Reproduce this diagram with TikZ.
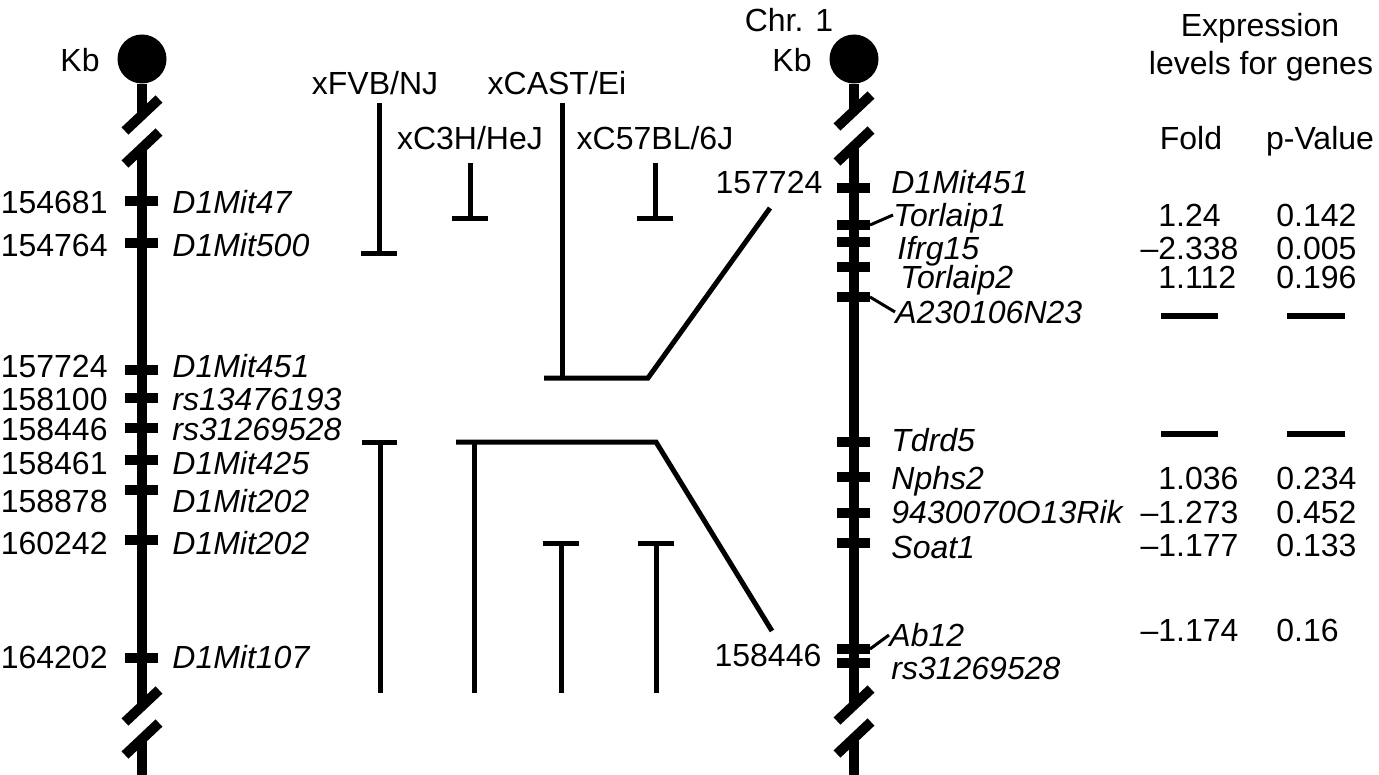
\documentclass[tikz,border=0pt]{standalone}
\usepackage{fontspec}
\setmainfont{Liberation Sans}
\newcommand{\lblfont}{\fontsize{16}{19}\selectfont}
\tikzset{
  chrom/.style={line width=5pt},
  tickbar/.style={line width=5pt},
  strain/.style={line width=2.5pt},
  lead/.style={line width=1.5pt},
  nodata/.style={line width=2.8pt},
  centro/.style={circle,fill,minimum size=24.5pt},
  gene/.style={anchor=west,font=\lblfont\itshape},
  kb/.style={anchor=east},
  val/.style={anchor=west}
}

\begin{document}
\begin{tikzpicture}
  [x=0.5pt,y=-0.5pt,every node/.style={font=\lblfont,inner sep=0pt,text height=11.5pt,text depth=0pt}]
  \useasboundingbox (0,0) rectangle (1379,775);

  % left chromosome
  \node[centro] (cenl) at (142,59) {};
  \node (kbl) at (80,60) {Kb};
  \draw[chrom] (cenl) -- (142,115);
  \draw[chrom] (142,148) -- (142,706);
  \draw[chrom] (142,739) -- (142,775);
  \foreach \y in {115,148,706,739}
    \draw[chrom] (125,\y+16) -- (159,\y-16);
  \foreach \y/\ly/\kb/\mk [count=\i] in {201/202/154681/D1Mit47, 243/245/154764/D1Mit500,
      370/366/157724/D1Mit451, 398/399/158100/rs13476193, 428/429/158446/rs31269528,
      460/463/158461/D1Mit425, 490/501/158878/D1Mit202, 540/543/160242/D1Mit202,
      658/657/164202/D1Mit107}{
    \draw[tickbar] (125,\y) -- (158,\y);
    \node[kb] (kl\i) at (108,\ly) {\kb};
    \node[gene] (ml\i) at (172,\ly) {\mk};
  }

  % right chromosome
  \node[centro] (cenr) at (854,59) {};
  \node (chr) at (789,20) {Chr. 1};
  \node (kbr) at (792,60) {Kb};
  \draw[chrom] (cenr) -- (854,111);
  \draw[chrom] (854,146) -- (854,705);
  \draw[chrom] (854,738) -- (854,775);
  \foreach \y in {111,146,705,738}
    \draw[chrom] (837,\y+16) -- (871,\y-16);
  \foreach \y [count=\i] in {188,225,242,267,297,442,477,513,543,649,663}{
    \draw[tickbar] (837,\y) -- (870,\y);
    \coordinate (tr\i) at (870,\y);
  }
  \node[gene] (mr1) at (891,182) {D1Mit451};
  \node[gene] (mr2) at (893,215) {Torlaip1};
  \node[gene] (mr3) at (897,248) {Ifrg15};
  \node[gene] (mr4) at (900,277) {Torlaip2};
  \node[gene] (mr5) at (895,312) {A230106N23};
  \node[gene] (mr6) at (891,440) {Tdrd5};
  \node[gene] (mr7) at (891,478) {Nphs2};
  \node[gene] (mr8) at (891,512) {9430070O13Rik};
  \node[gene] (mr9) at (891,547) {Soat1};
  \node[gene] (mr10) at (889,635) {Ab12};
  \node[gene] (mr11) at (891,668) {rs31269528};
  \draw[lead] (tr2) -- (mr2.west);
  \draw[lead] (tr5) -- (mr5.west);
  \draw[lead] (tr10) -- (mr10.west);

  % strains
  \node (fvb) at (375,83) {xFVB/NJ};
  \node (cast) at (557,83) {xCAST/Ei};
  \node (c3h) at (470,138) {xC3H/HeJ};
  \node (b6) at (655,138) {xC57BL/6J};
  \node (up) at (769,182) {157724};
  \node (dn) at (768,655) {158446};
  \coordinate (upend) at (770,208);
  \coordinate (dnend) at (772,631);

  \draw[strain] (379,103) -- (379,253) (361,253) -- (397,253);
  \draw[strain] (470,163) -- (470,218) (452,218) -- (488,218);
  \draw[strain] (655,163) -- (655,218) (637,218) -- (673,218);
  \draw[strain] (562,103) -- (562,378);
  \draw[strain] (544,378) -- (648,378) -- (upend);

  \draw[strain] (380,442) -- (380,693) (362,442) -- (397,442);
  \draw[strain] (474,442) -- (474,693);
  \draw[strain] (456,442) -- (656,442) -- (dnend);
  \draw[strain] (561,543) -- (561,693) (543,543) -- (579,543);
  \draw[strain] (656,543) -- (656,693) (638,543) -- (674,543);

  % expression table
  \node (expr) at (1260,25) {Expression};
  \node (lvl) at (1261,63) {levels for genes};
  \node (fold) at (1191,138) {Fold};
  \node (pval) at (1320,138) {p-Value};
  \foreach \y/\f/\p [count=\i] in {215/1.24/0.142, 248/\llap{--}2.338/0.005, 277/1.112/0.196,
      478/1.036/0.234, 512/\llap{--}1.273/0.452, 545/\llap{--}1.177/0.133, 630/\llap{--}1.174/0.16}{
    \node[val] (f\i) at (1158,\y) {\f};
    \node[val] (p\i) at (1276,\y) {\p};
  }
  \foreach \y in {316,434}{
    \draw[nodata] (1161,\y) -- (1218,\y);
    \draw[nodata] (1287,\y) -- (1345,\y);
  }
\end{tikzpicture}
\end{document}
